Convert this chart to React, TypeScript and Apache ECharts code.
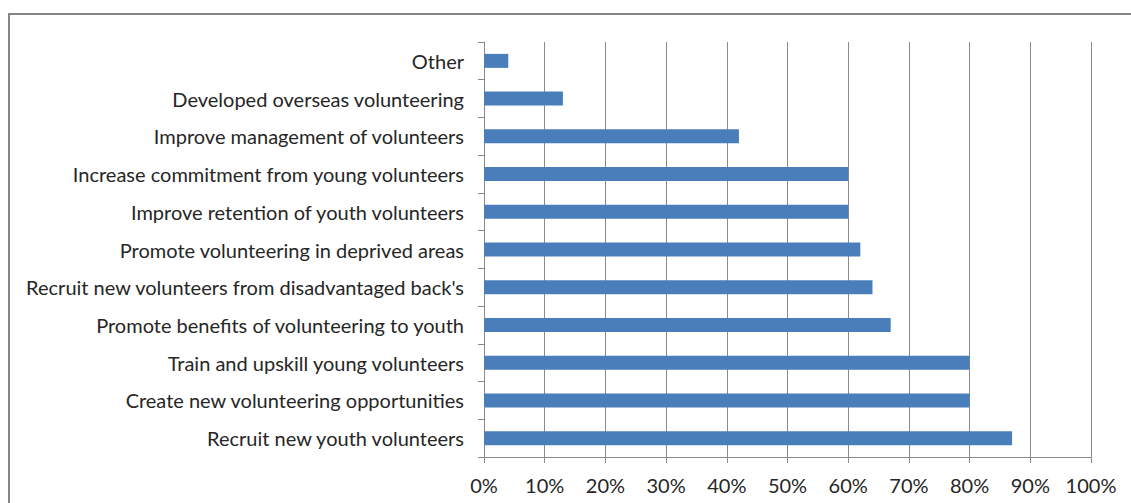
import React, { useEffect, useRef } from "react";
import * as echarts from "echarts";

const categories = [
  "Recruit new youth volunteers",
  "Create new volunteering opportunities",
  "Train and upskill young volunteers",
  "Promote benefits of volunteering to youth",
  "Recruit new volunteers from disadvantaged back's",
  "Promote volunteering in deprived areas",
  "Improve retention of youth volunteers",
  "Increase commitment from young volunteers",
  "Improve management of volunteers",
  "Developed overseas volunteering",
  "Other",
];
const values = [87, 80, 80, 67, 64, 62, 60, 60, 42, 13, 4];
const xTicks = { min: 0, max: 100, interval: 10 };

const FONT = "Lato";
const TEXT = "#262626";
const GRID = "#8a8a8a";

export default function App() {
  const ref = useRef<HTMLDivElement>(null);
  useEffect(() => {
    if (!ref.current) return;
    const chart = echarts.init(ref.current, undefined, { renderer: "svg" });
    chart.setOption({
      animation: false,
      backgroundColor: "#ffffff",
      textStyle: { fontFamily: FONT },
      graphic: [
        {
          type: "rect",
          shape: { x: 9, y: 14, width: 1200, height: 600 },
          style: { fill: "none", stroke: "#868686", lineWidth: 2 },
          silent: true,
        },
      ],
      grid: { left: 484, right: 40, top: 42, bottom: 46, containLabel: false },
      xAxis: {
        type: "value",
        min: xTicks.min,
        max: xTicks.max,
        interval: xTicks.interval,
        axisLine: { show: true, lineStyle: { color: GRID, width: 1 } },
        axisTick: { show: true, length: 6, lineStyle: { color: GRID } },
        splitLine: { show: true, lineStyle: { color: GRID, width: 1 } },
        axisLabel: {
          formatter: (v: number) => v + "%",
          color: TEXT,
          fontSize: 20,
          fontFamily: FONT,
          margin: 18,
        },
      },
      yAxis: {
        type: "category",
        data: categories,
        axisLine: { show: true, lineStyle: { color: GRID, width: 1 } },
        axisTick: { show: true, length: 6, lineStyle: { color: GRID } },
        axisLabel: {
          color: TEXT,
          fontSize: 20,
          fontFamily: FONT,
          margin: 20,
        },
      },
      series: [
        {
          type: "bar",
          data: values,
          barWidth: 14,
          itemStyle: { color: "#4A7EBB" },
        },
      ],
    });
    return () => chart.dispose();
  }, []);
  return (
    <div
      ref={ref}
      style={{ position: "absolute", left: 0, top: 0, width: 1131, height: 503 }}
    />
  );
}
